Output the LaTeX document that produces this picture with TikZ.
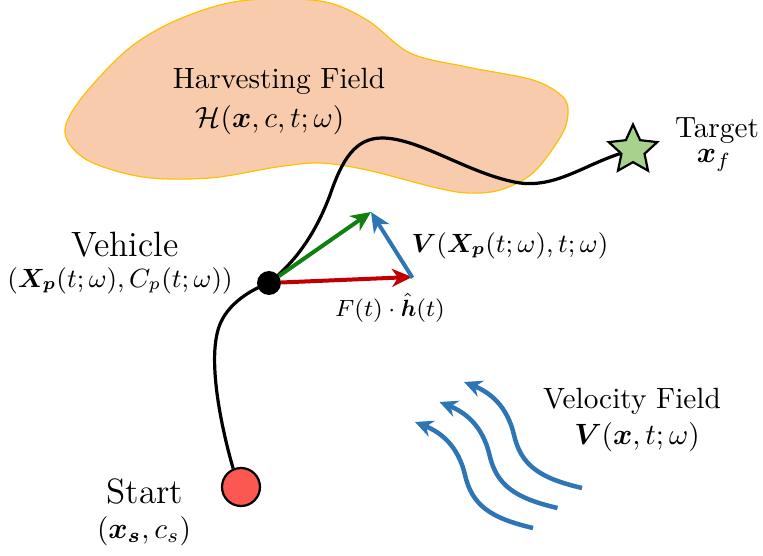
\RequirePackage{fix-cm}
\documentclass[tikz,border=0pt]{standalone}
\usepackage{amsmath,bm}
\usetikzlibrary{arrows.meta,shapes.geometric,backgrounds}
\definecolor{blobfill}{RGB}{248,203,173}
\definecolor{blobedge}{RGB}{255,192,0}
\definecolor{vgreen}{RGB}{16,128,16}
\definecolor{vred}{RGB}{192,0,0}
\definecolor{vblue}{RGB}{46,117,182}
\definecolor{startred}{RGB}{250,88,80}
\definecolor{stargreen}{RGB}{169,209,142}
\begin{document}
\begin{tikzpicture}[x=1pt,y=-1pt,
  basetxt/.style={font=\normalsize, inner sep=0pt, anchor=base, scale=2.93},
  bigtxt/.style={font=\large, inner sep=0pt, anchor=base, scale=2.93},
  midtxt/.style={font=\small, inner sep=0pt, anchor=base, scale=2.93},
  smalltxt/.style={font=\footnotesize, inner sep=0pt, anchor=base, scale=2.93},
  vec/.style={line width=4pt, -{Stealth[length=20pt,width=18pt,inset=6pt]}},
  flow/.style={vblue, line width=4.5pt, -{Stealth[length=18pt,width=17pt,inset=6pt]}},
  traj/.style={line width=3.2pt, black}
]
\useasboundingbox (0,0) rectangle (763,556);

% nodes
\node[circle, fill=black, minimum size=24pt, inner sep=0pt] (veh) at (269,283) {};
\node[circle, fill=startred, draw=black, line width=2.2pt, minimum size=38pt, inner sep=0pt] (start) at (241,487) {};
\node[star, star points=5, star point ratio=2.1, minimum size=51pt, inner sep=0pt,
      fill=stargreen, draw=black, line width=2.2pt] (target) at (633,150) {};

\begin{scope}[on background layer]
\draw[blobedge, line width=1.2pt, fill=blobfill] plot[smooth cycle, tension=0.55] coordinates {
 (65,133) (80,100) (127,50) (177,20) (240,1) (320,1) (367,20) (410,53) (467,67)
 (533,80) (563,97) (568,114) (561,136) (533,173) (500,190) (467,193) (433,187)
 (367,170) (320,163) (277,167) (210,178) (143,177) (87,160)};
\draw[traj] (start.113) .. controls (222,430) and (208,365) .. (218,330)
   .. controls (224,308) and (245,292) .. (veh.center);
\draw[traj] (veh.center) .. controls (295,262) and (315,235) .. (330,195)
   .. controls (342,160) and (355,138) .. (382,138)
   .. controls (420,138) and (470,175) .. (520,183)
   .. controls (560,188) and (590,160) .. (target.center);
\end{scope}

% vectors
\coordinate (sumtip) at (371,212);
\coordinate (redtip) at (412,277);
\draw[vec, vgreen] (veh) -- (sumtip);
\draw[vec, vred] (veh) -- (redtip);
\draw[vec, vblue, shorten <=-1pt] (redtip) -- (sumtip);

% velocity field
\foreach \k in {0,1,2}{
  \draw[flow, shift={(24.5*\k,-20*\k)}] (533,528) .. controls (490,518) and (472,505) .. (465,475)
     .. controls (458,445) and (440,432) .. (415,422);
}

% labels
\node[basetxt] (hf1) at (279,89) {Harvesting Field};
\node[basetxt] (hf2) at (270,128) {$\mathcal{H}(\bm{x},c,t;\omega)$};
\node[bigtxt] (vh1) at (125,257) {Vehicle};
\node[midtxt] (vh2) at (120,287) {$(\bm{X_p}(t;\omega),C_p(t;\omega))$};
\node[bigtxt] (st1) at (145,503) {Start};
\node[basetxt] (st2) at (144,538) {$(\bm{x_s},c_s)$};
\node[basetxt] (tg1) at (717,138) {Target};
\node[basetxt] (tg2) at (714,163) {$\bm{x}_f$};
\node[basetxt] (vf1) at (632,408) {Velocity Field};
\node[basetxt] (vf2) at (637,444) {$\bm{V}(\bm{x},t;\omega)$};
\node[midtxt] (vl) at (510,252) {$\bm{V}(\bm{X_p}(t;\omega),t;\omega)$};
\node[smalltxt] (fl) at (390,316) {$F(t)\cdot\hat{\bm{h}}(t)$};
\end{tikzpicture}
\end{document}
